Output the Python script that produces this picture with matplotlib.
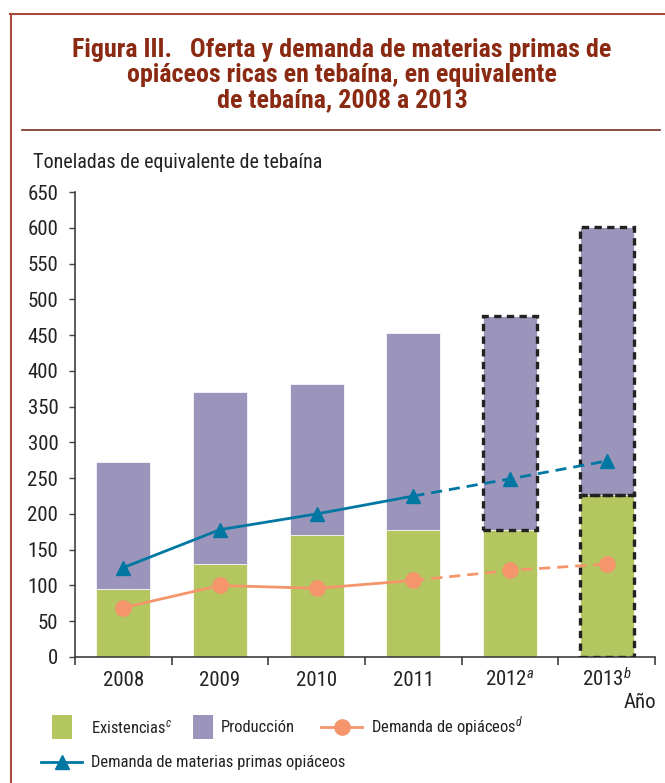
import numpy as np
import matplotlib.pyplot as plt
from matplotlib import font_manager
from matplotlib.patches import Rectangle
from matplotlib.lines import Line2D

installed = {f.name for f in font_manager.fontManager.ttflist}
font = next((f for f in ['Roboto Condensed', 'Archivo Narrow', 'Barlow Semi Condensed', 'DejaVu Sans']
             if f in installed), 'DejaVu Sans')
plt.rcParams['font.family'] = [font, 'DejaVu Sans']
plt.rcParams['mathtext.fontset'] = 'custom'
plt.rcParams['mathtext.rm'] = font
plt.rcParams['mathtext.it'] = font + ':italic'

# Data (toneladas de equivalente de tebaína)
years = ['2008', '2009', '2010', '2011', '2012$^{a}$', '2013$^{b}$']
existencias = [95, 130, 170, 178, 178, 226]
produccion = [178, 241, 211, 275, 298, 375]
demanda_opiaceos = [69, 100, 96, 107, 121, 130]
demanda_materias = [125, 178, 200, 225, 249, 274]

green = '#B3C65F'
purple = '#9B95BB'
blue = '#0077A3'
orange = '#F4956B'
red = '#A64B3A'
title_red = '#8B2A12'
txt = '#222222'

W, H = 665, 783
fig = plt.figure(figsize=(W / 100, H / 100), dpi=100)

def fx(px):
    return px / W

def fy(py):
    return 1 - py / H

# frame and title
fig.add_artist(Line2D([fx(10), 1], [fy(14), fy(14)], color=red, lw=1.5))
fig.add_artist(Line2D([fx(11), fx(11)], [fy(14), 0], color=red, lw=1.5))
fig.add_artist(Line2D([fx(22), fx(660)], [fy(130), fy(130)], color='#7A2E1E', lw=1.2))
title = "Figura III.   Oferta y demanda de materias primas de\nopiáceos ricas en tebaína, en equivalente\nde tebaína, 2008 a 2013"
fig.text(fx(342), fy(75), title, ha='center', va='center', fontsize=18.7,
         fontweight='bold', color=title_red, linespacing=1.07)

ax = fig.add_axes([fx(75), fy(657), fx(655) - fx(75), fy(192) - fy(657)])
x = np.arange(len(years))
bw = 0.56
ax.bar(x, existencias, bw, color=green, edgecolor='white', linewidth=0.5, zorder=2)
ax.bar(x, produccion, bw, bottom=existencias, color=purple, edgecolor='white', linewidth=0.5, zorder=2)

# dashed boxes for estimated values
dash = (0, (2.2, 1.6))
for i in [4, 5]:
    ax.add_patch(Rectangle((x[i] - bw / 2, existencias[i]), bw, produccion[i], fill=False,
                           edgecolor=txt, lw=2.4, linestyle=dash, zorder=3))
ax.add_patch(Rectangle((x[5] - bw / 2, 0), bw, existencias[5], fill=False,
                       edgecolor=txt, lw=2.4, linestyle=dash, zorder=3))

# lines: solid up to 2011, dashed afterwards
for vals, col, mk, ms in [(demanda_materias, blue, '^', 10), (demanda_opiaceos, orange, 'o', 11)]:
    ax.plot(x[:4], vals[:4], color=col, lw=2, zorder=4)
    ax.plot(x[3:], vals[3:], color=col, lw=2, linestyle=(0, (4, 2.5)), zorder=4)
    ax.plot(x, vals, linestyle='none', marker=mk, color=col, markersize=ms, zorder=5)

ax.set_xlim(-0.5, 5.5)
ax.set_ylim(0, 650)
ax.set_yticks(np.arange(0, 651, 50))
ax.set_xticks(x)
ax.set_xticklabels(years, va='baseline')
ax.set_xticks(np.arange(-0.5, 5.6, 1), minor=True)
ax.tick_params(axis='x', which='major', length=0, pad=21, labelsize=15, colors=txt)
ax.tick_params(axis='x', which='minor', length=6, width=1.2, color='#404040')
ax.tick_params(axis='y', length=4, width=1, pad=8, labelsize=15, colors=txt)
ax.tick_params(axis='y', color='#404040')
for s in ['top', 'right']:
    ax.spines[s].set_visible(False)
for s in ['left', 'bottom']:
    ax.spines[s].set_color('#404040')
    ax.spines[s].set_linewidth(1.2)

fig.text(fx(33), fy(162), 'Toneladas de equivalente de tebaína', fontsize=14.5,
         ha='left', va='center', color=txt)
fig.text(fx(656), fy(702), 'Año', fontsize=15, ha='right', va='center', color=txt)

# legend drawn by hand
lfs = 11.9

def legend_patch(cx, cy, col, label, tx):
    fig.add_artist(Rectangle((fx(cx - 10), fy(cy + 12)), fx(20), fy(0) - fy(24),
                             facecolor=col, edgecolor='none'))
    fig.text(fx(tx), fy(cy), label, fontsize=lfs, ha='left', va='center', color=txt)

def legend_line(x0, x1, cy, col, mk, ms, label, tx):
    fig.add_artist(Line2D([fx(x0), fx(x1)], [fy(cy), fy(cy)], color=col, lw=2))
    fig.add_artist(Line2D([fx((x0 + x1) / 2)], [fy(cy)], marker=mk, color=col,
                          markersize=ms, linestyle='none'))
    fig.text(fx(tx), fy(cy), label, fontsize=lfs, ha='left', va='center', color=txt)

legend_patch(62, 727, green, 'Existencias$^{c}$', 91)
legend_patch(203, 727, purple, 'Producción', 221)
legend_line(321, 362, 727, orange, 'o', 11, 'Demanda de opiáceos$^{d}$', 371)
legend_line(41, 82, 762, blue, '^', 10, 'Demanda de materias primas opiáceos', 91)

fig.savefig('out.png', dpi=100)
